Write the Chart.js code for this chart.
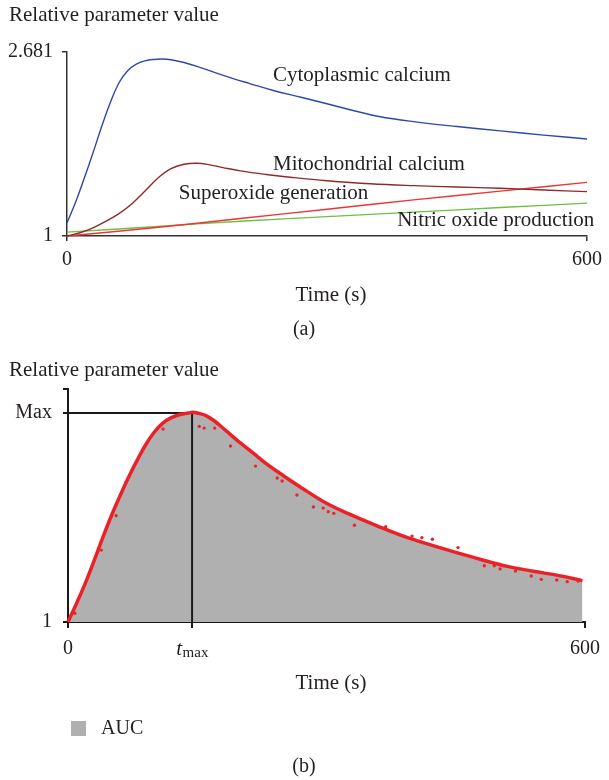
<!DOCTYPE html>
<html><head><meta charset="utf-8">
<script src="https://cdn.jsdelivr.net/npm/chart.js@4.4.0/dist/chart.umd.min.js"></script>
<style>
html,body{margin:0;padding:0;background:#fff;}
#wrap{position:relative;width:609px;height:780px;overflow:hidden;background:#fff;}
#ca{position:absolute;left:0;top:0;}
#cb{position:absolute;left:0;top:345px;}
</style></head><body>
<div id="wrap">
<canvas id="ca" width="609" height="345"></canvas>
<canvas id="cb" width="609" height="435"></canvas>
</div>
<script>
// ---------- Data: panel (a) ----------
const cytoTimes = [0,10,20,30,40,50,60,70,80,90,100,110,120,135,150,170,190,210,240,270,300,330,360,400,450,500,550,600];
const cytoValues = [1.12,1.31,1.53,1.76,2.00,2.22,2.40,2.51,2.57,2.60,2.613,2.617,2.61,2.585,2.55,2.495,2.443,2.395,2.325,2.268,2.208,2.147,2.092,2.045,2.00,1.96,1.922,1.886];
const mitoTimes = [0,15,30,45,60,75,90,105,120,135,150,165,180,200,230,260,300,350,400,450,500,550,600];
const mitoValues = [1.0,1.03,1.075,1.135,1.205,1.295,1.41,1.53,1.615,1.655,1.665,1.65,1.625,1.595,1.562,1.535,1.505,1.477,1.46,1.448,1.436,1.42,1.405];
const superTimes = [0,100,200,300,400,500,600];
const superValues = [1.0,1.075,1.16,1.245,1.33,1.41,1.49];
const noTimes = [0,100,200,300,400,500,600];
const noValues = [1.035,1.085,1.135,1.177,1.218,1.26,1.30];
const seriesNamesA = ['Cytoplasmic calcium','Mitochondrial calcium','Superoxide generation','Nitric oxide production'];
const yTickValuesA = [1, 2.681];
const yTickLabelsA = ['1', '2.681'];
const xTickValuesA = [0, 600];
const xTickLabelsA = ['0', '600'];

// ---------- Data: panel (b) ----------
const aucTimes = [0,10,20,30,40,50,60,70,80,90,100,110,120,130,140,145,150,160,170,180,190,200,215,230,250,270,300,330,360,390,420,450,480,510,540,570,597];
const aucValues = [1.0,1.09,1.185,1.29,1.40,1.505,1.60,1.69,1.772,1.847,1.908,1.952,1.978,1.993,2.0,2.004,2.0,1.988,1.962,1.927,1.892,1.857,1.808,1.758,1.70,1.645,1.568,1.51,1.458,1.41,1.37,1.333,1.298,1.266,1.243,1.222,1.198];
const sampleTimes = [8.0,38.6,55.8,67.2,110.3,152.3,158,170.3,188.6,217.6,242.8,248.5,265.7,284.8,296.2,302,308.4,332.4,368.7,399.3,410.7,422.9,452.6,483.2,494.7,501.5,519.3,537.6,549.3,567.2,579.4,592];
const sampleValues = [1.042,1.344,1.509,1.668,1.923,1.936,1.928,1.928,1.842,1.746,1.689,1.675,1.608,1.550,1.545,1.528,1.520,1.463,1.456,1.411,1.404,1.396,1.356,1.269,1.269,1.254,1.244,1.220,1.204,1.201,1.193,1.196];
const MAX_VALUE = 2.0;
const T_MAX = 144;
const Y_TOP_B = 2.115;
const yTickValuesB = [1, MAX_VALUE, Y_TOP_B];
const yTickLabelsB = ['1', 'Max', ''];
const xTickValuesB = [0, T_MAX, 600];
const xTickLabelsB = ['0', '', '600'];

// ---------- Styling ----------
const FONT = '"Liberation Serif", "Times New Roman", serif';
const TXT = '#231f20';
const pts = (ts, vs) => ts.map((t, i) => ({x: t, y: vs[i]}));

function drawText(ctx, s, x, y, size, align, style) {
  ctx.save();
  ctx.font = (style || '') + ' ' + size + 'px ' + FONT;
  ctx.fillStyle = TXT;
  ctx.textAlign = align || 'left';
  ctx.textBaseline = 'middle';
  ctx.fillText(s, x, y);
  ctx.restore();
}

function axisCfg(tickVals, tickLabels, opts, tickPad) {
  return Object.assign({
    type: 'linear',
    afterBuildTicks: s => { s.ticks = tickVals.map(v => ({value: v})); },
    ticks: {
      autoSkip: false, maxRotation: 0, padding: tickPad,
      color: TXT, font: {family: FONT, size: 20},
      callback: (v) => { const i = tickVals.indexOf(v); return i >= 0 ? tickLabels[i] : ''; }
    },
    grid: {display: true, drawOnChartArea: false, drawTicks: true, tickLength: 5, color: '#333', lineWidth: 1.5},
    border: {display: true, color: '#333', width: 1.5}
  }, opts);
}

// ---------- Panel (a) ----------
const labelPosA = [
  {t: 237.7, v: 2.471},
  {t: 237.7, v: 1.655},
  {t: 129, v: 1.388},
  {t: 381, v: 1.142}
];
const colorsA = ['#2b4aa6', '#8e2a2a', '#ee3434', '#6cbf45'];

const textPluginA = {
  id: 'textA',
  afterDraw(chart) {
    const ctx = chart.ctx, xs = chart.scales.x, ys = chart.scales.y;
    drawText(ctx, 'Relative parameter value', 9, 15, 21);
    drawText(ctx, 'Time (s)', 331, 295, 21, 'center');
    drawText(ctx, '(a)', 304, 330, 20, 'center');
    seriesNamesA.forEach((n, i) => {
      const p = labelPosA[i];
      drawText(ctx, n, xs.getPixelForValue(p.t), ys.getPixelForValue(p.v), 21);
    });
  }
};

new Chart(document.getElementById('ca'), {
  type: 'line',
  data: {
    datasets: [
      {label: seriesNamesA[0], data: pts(cytoTimes, cytoValues)},
      {label: seriesNamesA[1], data: pts(mitoTimes, mitoValues)},
      {label: seriesNamesA[2], data: pts(superTimes, superValues)},
      {label: seriesNamesA[3], data: pts(noTimes, noValues)}
    ].map((d, i) => Object.assign(d, {
      borderColor: colorsA[i], borderWidth: 1.4, pointRadius: 0,
      tension: 0.4, fill: false, clip: false
    }))
  },
  options: {
    responsive: false, animation: false,
    layout: {padding: {top: 52, right: 17, left: 0, bottom: 0}},
    plugins: {legend: {display: false}, tooltip: {enabled: false}},
    scales: {
      x: axisCfg(xTickValuesA, xTickLabelsA, {min: 0, max: 600, afterFit: s => { s.height = 345 - 236; }}, 7),
      y: axisCfg(yTickValuesA, yTickLabelsA, {min: 1, max: 2.681, afterFit: s => { s.width = 67; }}, 9)
    }
  },
  plugins: [textPluginA]
});

// ---------- Panel (b) ----------
const textPluginB = {
  id: 'textB',
  afterDraw(chart) {
    const ctx = chart.ctx, xs = chart.scales.x;
    drawText(ctx, 'Relative parameter value', 9, 25, 21);
    drawText(ctx, 'Time (s)', 331, 338, 21, 'center');
    drawText(ctx, '(b)', 304, 422, 20, 'center');
    // t_max tick label
    ctx.save();
    ctx.font = 'italic 21px ' + FONT;
    const wt = ctx.measureText('t').width;
    ctx.font = '15px ' + FONT;
    const wm = ctx.measureText('max').width;
    ctx.restore();
    const cx = xs.getPixelForValue(T_MAX);
    const x0 = cx - (wt + wm) / 2;
    drawText(ctx, 't', x0, 304, 21, 'left', 'italic');
    drawText(ctx, 'max', x0 + wt + 0.5, 308, 15, 'left');
    // legend
    const ds = chart.data.datasets[1];
    ctx.save();
    ctx.fillStyle = ds.backgroundColor;
    ctx.fillRect(71, 376, 15, 15);
    ctx.restore();
    drawText(ctx, ds.label, 101, 384, 20);
  }
};

const thick = {grid: {display: true, drawOnChartArea: false, drawTicks: true, tickLength: 6, color: '#1a1a1a', lineWidth: 2},
               border: {display: true, color: '#1a1a1a', width: 2}};

new Chart(document.getElementById('cb'), {
  type: 'line',
  data: {
    datasets: [
      {label: 'samples', data: pts(sampleTimes, sampleValues), showLine: false,
       pointRadius: 1.7, pointBackgroundColor: '#e8262a', pointBorderWidth: 0, order: 0, clip: false},
      {label: 'AUC', data: pts(aucTimes, aucValues), borderColor: '#ec2127', borderWidth: 3.5,
       backgroundColor: '#afb0af', fill: 'start', pointRadius: 0, tension: 0.4, order: 1, clip: false},
      {label: 'guide', data: [{x: 0, y: MAX_VALUE}, {x: T_MAX, y: MAX_VALUE}, {x: T_MAX, y: 1}],
       borderColor: '#1a1a1a', borderWidth: 2, pointRadius: 0, tension: 0, fill: false, order: 2, clip: false}
    ]
  },
  options: {
    responsive: false, animation: false,
    layout: {padding: {top: 44, right: 17, left: 0, bottom: 0}},
    plugins: {legend: {display: false}, tooltip: {enabled: false}, filler: {drawTime: 'beforeDatasetsDraw'}},
    scales: {
      x: axisCfg(xTickValuesB, xTickLabelsB, Object.assign({min: 0, max: 600, afterFit: s => { s.height = 435 - 277; }}, thick), 9),
      y: axisCfg(yTickValuesB, yTickLabelsB, Object.assign({min: 1, max: Y_TOP_B, afterFit: s => { s.width = 68; }}, thick, {grid: Object.assign({}, thick.grid, {tickLength: 5})}), 11)
    }
  },
  plugins: [textPluginB]
});
</script>
</body></html>
